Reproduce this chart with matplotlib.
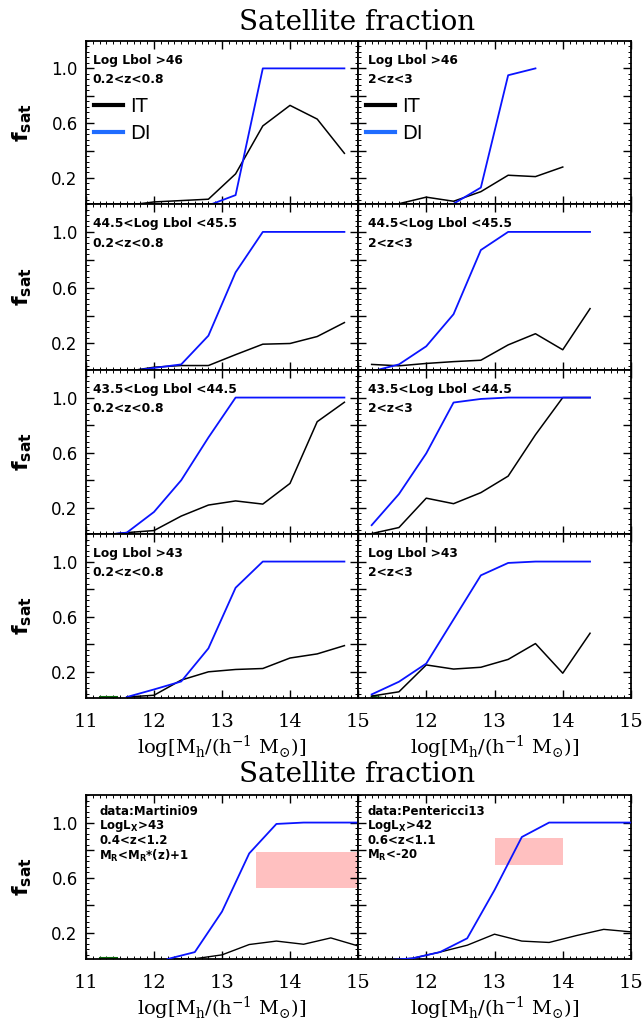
import numpy as np
import matplotlib
matplotlib.use('Agg')
import matplotlib.pyplot as plt
from matplotlib.lines import Line2D
from matplotlib.patches import Rectangle
from matplotlib.ticker import FixedLocator, MultipleLocator, FuncFormatter

plt.rcParams['mathtext.fontset'] = 'custom'
plt.rcParams['mathtext.rm'] = 'DejaVu Serif'
plt.rcParams['mathtext.bf'] = 'DejaVu Sans:bold'

nan = np.nan

# halo mass grid (log Mh) used by the model curves
mh = [11.2, 11.6, 12.0, 12.4, 12.8, 13.2, 13.6, 14.0, 14.4, 14.8]
mh_obs = [11.4, 11.8, 12.2, 12.6, 13.0, 13.4, 13.8, 14.2, 14.6, 15.0]
green_x = [11.2, 11.45]

row_labels = ['Log Lbol >46', '44.5<Log Lbol <45.5', '43.5<Log Lbol <44.5', 'Log Lbol >43']
z_labels = ['0.2<z<0.8', '2<z<3']

# satellite fractions, IT = internal triggering, DI = disk instability
it_46_lo = [nan, 0.0, 0.025, 0.035, 0.045, 0.23, 0.58, 0.73, 0.63, 0.38]
di_46_lo = [nan, nan, nan, nan, 0.0, 0.075, 1.0, 1.0, 1.0, 1.0]
it_46_hi = [nan, 0.012, 0.06, 0.03, 0.10, 0.22, 0.21, 0.28, nan, nan]
di_46_hi = [nan, nan, nan, 0.012, 0.13, 0.95, 1.0, nan, nan, nan]

it_45_lo = [nan, 0.0, 0.03, 0.042, 0.042, 0.12, 0.195, 0.20, 0.25, 0.35]
di_45_lo = [nan, 0.0, 0.025, 0.05, 0.256, 0.71, 1.0, 1.0, 1.0, 1.0]
it_45_hi = [0.05, 0.04, 0.057, 0.07, 0.08, 0.19, 0.27, 0.155, 0.45, nan]
di_45_hi = [0.0, 0.05, 0.18, 0.41, 0.87, 1.0, 1.0, 1.0, 1.0, nan]

it_44_lo = [0.0, 0.02, 0.035, 0.14, 0.22, 0.25, 0.227, 0.377, 0.825, 0.966]
di_44_lo = [0.0, 0.02, 0.17, 0.40, 0.71, 1.0, 1.0, 1.0, 1.0, 1.0]
it_44_hi = [0.013, 0.057, 0.27, 0.23, 0.31, 0.43, 0.73, 1.0, 1.0, nan]
di_44_hi = [0.074, 0.30, 0.595, 0.964, 0.99, 1.0, 1.0, 1.0, 1.0, nan]

it_43_lo = [nan, 0.017, 0.03, 0.14, 0.20, 0.217, 0.224, 0.30, 0.33, 0.39]
di_43_lo = [nan, 0.017, 0.072, 0.13, 0.37, 0.81, 1.0, 1.0, 1.0, 1.0]
it_43_hi = [0.024, 0.055, 0.25, 0.22, 0.233, 0.29, 0.405, 0.19, 0.48, nan]
di_43_hi = [0.036, 0.128, 0.26, 0.58, 0.90, 0.99, 1.0, 1.0, 1.0, nan]
green_43_lo = [0.015, 0.015]
green_43_hi = [0.02, 0.005]

# comparison with observations
it_mart = [nan, nan, 0.01, 0.012, 0.04, 0.115, 0.14, 0.117, 0.163, 0.105]
di_mart = [nan, nan, 0.01, 0.06, 0.354, 0.776, 0.99, 1.0, 1.0, 1.0]
it_pent = [0.0, 0.015, 0.06, 0.11, 0.19, 0.14, 0.13, 0.18, 0.225, 0.207]
di_pent = [0.0, 0.015, 0.06, 0.16, 0.51, 0.895, 1.0, 1.0, 1.0, 1.0]
green_mart = [0.015, 0.015]
# observed boxes: (mh min, mh max, fsat min, fsat max)
box_mart = [13.5, 15.0, 0.525, 0.79]
box_pent = [13.0, 14.0, 0.69, 0.885]
text_mart = ['data:Martini09', r'LogL$_\mathbf{X}$>43', '0.4<z<1.2', r'M$_\mathbf{R}$<M$_\mathbf{R}$*(z)+1']
text_pent = ['data:Pentericci13', r'LogL$_\mathbf{X}$>42', '0.6<z<1.1', r'M$_\mathbf{R}$<-20']

BLUE = '#0a14ff'
W, H = 643, 1023
fig = plt.figure(figsize=(6.43, 10.23), dpi=100)


def add_ax(x0, x1, ytop, ybot):
    return fig.add_axes([x0 / W, 1 - ybot / H, (x1 - x0) / W, (ybot - ytop) / H])


def style(ax, right, xlab):
    ax.set_xlim(11, 15)
    ax.set_ylim(0.01, 1.2)
    ax.xaxis.set_major_locator(MultipleLocator(1))
    ax.xaxis.set_minor_locator(MultipleLocator(0.1))
    ax.yaxis.set_major_locator(FixedLocator([0.2, 0.4, 0.6, 0.8, 1.0]))
    ax.yaxis.set_minor_locator(MultipleLocator(0.04))
    ax.tick_params(which='both', direction='in', top=True, right=True)
    ax.tick_params(which='major', length=6, width=1.0)
    ax.tick_params(which='minor', length=2.5, width=0.7)
    ax.tick_params(axis='x', pad=11, labelsize=14)
    ax.tick_params(axis='y', pad=6, labelsize=12)
    for s in ax.spines.values():
        s.set_linewidth(1.3)
    if right:
        ax.set_yticklabels([])
    else:
        ax.yaxis.set_major_formatter(FuncFormatter(
            lambda v, p: '%.1f' % v if round(v, 1) in (0.2, 0.6, 1.0) else ''))
        ax.set_ylabel(r'f$_\mathbf{sat}$', fontsize=16, fontweight='bold')
        ax.yaxis.set_label_coords(-0.19, 0.5)
    if xlab:
        if right:
            ax.xaxis.set_major_formatter(FuncFormatter(lambda v, p: '' if v < 11.5 else '%d' % v))
        else:
            ax.xaxis.set_major_formatter(FuncFormatter(lambda v, p: '%d' % v))
        for t in ax.get_xticklabels():
            t.set_family('DejaVu Serif')
        ax.set_xlabel(r'log[M$_\mathrm{h}$/(h$^\mathrm{-1}$ M$_{⊙}$)]', fontsize=14,
                      family='DejaVu Serif', va='center')
        ax.xaxis.set_label_coords(0.5, -0.30)
    else:
        ax.set_xticklabels([])


grid_left, grid_mid, grid_right = 86, 358, 631
bounds = [41, 204, 370, 534, 698]
panels = [
    [(it_46_lo, di_46_lo, None), (it_46_hi, di_46_hi, None)],
    [(it_45_lo, di_45_lo, None), (it_45_hi, di_45_hi, None)],
    [(it_44_lo, di_44_lo, None), (it_44_hi, di_44_hi, None)],
    [(it_43_lo, di_43_lo, green_43_lo), (it_43_hi, di_43_hi, green_43_hi)],
]

for r in range(4):
    for c in range(2):
        x0, x1 = (grid_left, grid_mid) if c == 0 else (grid_mid, grid_right)
        ax = add_ax(x0, x1, bounds[r], bounds[r + 1])
        it, di, gr = panels[r][c]
        if gr is not None:
            ax.plot(green_x, gr, color='#0b6b0b', lw=1.5)
        ax.plot(mh, it, color='black', lw=1.1)
        ax.plot(mh, di, color=BLUE, lw=1.3)
        style(ax, c == 1, r == 3)
        tx = 0.025 if c == 0 else 0.035
        ax.text(tx, 0.88, row_labels[r], transform=ax.transAxes, fontsize=8.8,
                fontweight='bold', va='center', ha='left')
        ax.text(tx, 0.765, z_labels[c], transform=ax.transAxes, fontsize=8.8,
                fontweight='bold', va='center', ha='left')
        if r == 0:
            handles = [Line2D([], [], color='black', lw=3), Line2D([], [], color='#1f6cff', lw=3)]
            ax.legend(handles, ['IT', 'DI'], loc='upper left', bbox_to_anchor=(0.03, 0.655),
                      frameon=False, fontsize=14, handlelength=1.5, handletextpad=0.35,
                      labelspacing=0.4, borderpad=0, borderaxespad=0)

fig.text(357 / W, 1 - 22 / H, 'Satellite fraction', ha='center', va='center',
         family='DejaVu Serif', fontsize=20)
fig.text(357 / W, 1 - 775 / H, 'Satellite fraction', ha='center', va='center',
         family='DejaVu Serif', fontsize=20)

obs = [(it_mart, di_mart, green_mart, box_mart, text_mart),
       (it_pent, di_pent, None, box_pent, text_pent)]
for c in range(2):
    x0, x1 = (grid_left, grid_mid) if c == 0 else (grid_mid, grid_right)
    ax = add_ax(x0, x1, 795, 959)
    it, di, gr, box, txt = obs[c]
    ax.add_patch(Rectangle((box[0], box[2]), box[1] - box[0], box[3] - box[2],
                           facecolor='#ffc0c0', edgecolor='none', zorder=1))
    if gr is not None:
        ax.plot(green_x, gr, color='#0b6b0b', lw=1.5)
    ax.plot(mh_obs, it, color='black', lw=1.0, zorder=3)
    ax.plot(mh_obs, di, color=BLUE, lw=1.3, zorder=3)
    style(ax, c == 1, True)
    tx = 0.048 if c == 0 else 0.033
    for i, t in enumerate(txt):
        ax.text(tx, 0.902 - 0.091 * i, t, transform=ax.transAxes, fontsize=8.5,
                fontweight='bold', va='center', ha='left')

fig.savefig('out.png', dpi=100)
